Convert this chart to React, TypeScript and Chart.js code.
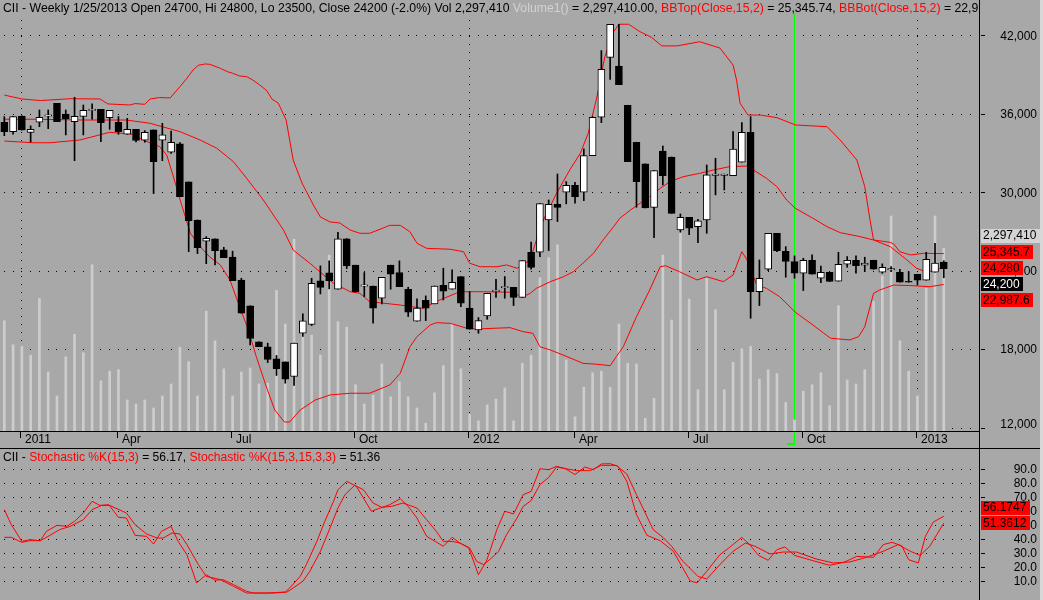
import React, { useEffect, useRef } from 'react';
import { Chart, registerables } from 'chart.js';
Chart.register(...registerables);

// ---------------- DATA (weekly bars, index 0 = first bar, 107 = 1/25/2013) ----------------
const openP = [
  35400, 34680, 35880, 34630, 35400, 35860, 36850, 36030, 35450, 35850,
  36300, 36390, 35750, 35400, 34480, 34860, 34020, 34810, 34020, 33100,
  33740, 30830, 27920, 26290, 26470, 25630, 25090, 23330, 21350, 18590,
  18210, 17290, 17060, 15940, 19250, 19920, 23260, 23870, 22620, 26470,
  24460, 22860, 22870, 21930, 24460, 23900, 22620, 20170, 21780, 21500,
  22920, 22620, 23590, 21170, 19510, 20580, 22450, 22730, 22770, 22000,
  25450, 25450, 27920, 29120, 30040, 30580, 30040, 32850, 35780, 40370,
  39700, 36700, 33870, 32210, 28890, 33200, 32740, 27160, 28130, 27410,
  27920, 31330, 31330, 31320, 32340, 34630, 22440, 24150, 26900, 25530,
  24740, 23840, 24840, 23460, 23920, 23230, 24530, 24840, 24460, 24840,
  23920, 24100, 23920, 23230, 23770, 23310, 23920, 24700,
];
const highP = [
  35830, 35850, 35900, 35120, 36340, 36340, 36850, 36340, 37310, 36720,
  36800, 36390, 36310, 35830, 35700, 34860, 34760, 34810, 35320, 34730,
  33840, 30830, 27920, 26650, 26470, 25830, 25530, 23460, 21350, 18590,
  18490, 17550, 17060, 18490, 20730, 23460, 24410, 24790, 26980, 26500,
  24460, 23900, 22870, 23540, 24460, 24790, 22770, 21880, 22110, 22870,
  24230, 24100, 23590, 22440, 20450, 22310, 23380, 23590, 22770, 24810,
  26220, 29170, 29450, 31440, 30860, 30800, 33360, 35830, 40880, 42890,
  42890, 36700, 33870, 32210, 31700, 33580, 32740, 28380, 28130, 27970,
  32130, 32640, 31430, 34680, 35370, 35830, 24860, 26900, 26900, 25880,
  25170, 24990, 25250, 24400, 23920, 25450, 25120, 25170, 25070, 24840,
  24560, 24350, 24150, 23970, 23770, 25450, 26140, 24800,
];
const lowP = [
  34370, 34480, 34800, 33890, 35060, 34910, 35450, 34430, 32460, 34430,
  35630, 33920, 34860, 34480, 34480, 33890, 33870, 29940, 32460, 33020,
  29710, 25500, 25350, 24580, 24480, 25040, 23280, 20790, 18360, 18230,
  17010, 16020, 15430, 15250, 19000, 19840, 22260, 22650, 22620, 24200,
  22400, 22060, 20020, 21500, 22620, 22820, 20530, 20170, 20220, 21500,
  21800, 22620, 21290, 19560, 19250, 20320, 22000, 21930, 21370, 22000,
  24150, 25120, 25580, 27800, 29150, 29200, 29400, 32850, 35370, 38680,
  38280, 32390, 28890, 28840, 26570, 30600, 28430, 26980, 26800, 26190,
  26900, 29840, 30220, 31320, 32340, 20400, 21370, 24050, 25500, 23540,
  23460, 22520, 23770, 23130, 23210, 23230, 24300, 23840, 23970, 24150,
  23840, 23970, 23160, 23160, 22950, 23310, 23920, 23500,
];
const closeP = [
  34680, 35830, 34810, 34860, 35780, 35960, 35450, 35680, 35850, 36310,
  36400, 35370, 36310, 34680, 34860, 34000, 34630, 32390, 34430, 33870,
  29710, 27870, 25810, 26520, 25580, 25040, 23280, 20790, 18850, 18230,
  17240, 16550, 15740, 18490, 20200, 23080, 22750, 23280, 26470, 24410,
  22440, 22960, 21170, 23540, 23770, 22820, 20860, 21170, 21170, 22870,
  22470, 23150, 21550, 19560, 20220, 22310, 22550, 22830, 22000, 24810,
  24280, 29170, 29120, 28890, 30580, 29710, 32850, 35780, 39450, 42890,
  38280, 32390, 30860, 28840, 31700, 31310, 28430, 28130, 27290, 27850,
  31370, 31430, 31430, 33350, 34630, 22440, 23460, 26900, 25580, 24740,
  23840, 24840, 23770, 23920, 23210, 24530, 24840, 24430, 24630, 24150,
  24300, 24200, 23160, 23160, 23310, 24910, 24630, 24200,
];
// volume in millions of shares
const volumeM = [
  1.39, 1.09, 1.07, 0.96, 1.67, 0.75, 0.45, 0.94, 1.22, 0.99,
  2.09, 0.64, 0.76, 0.78, 0.40, 0.35, 0.40, 0.30, 0.45, 0.60,
  1.06, 0.88, 0.45, 1.51, 1.14, 0.79, 0.45, 0.75, 0.80, 0.60,
  0.61, 1.77, 1.35, 2.41, 1.31, 1.21, 0.96, 2.21, 1.38, 1.31,
  0.59, 0.35, 0.46, 0.85, 0.44, 0.63, 0.44, 0.30, 0.11, 0.49,
  0.83, 1.35, 0.79, 0.22, 0.14, 0.34, 0.41, 0.55, 0.14, 0.86,
  0.96, 1.93, 2.18, 2.34, 0.90, 0.19, 0.56, 0.74, 0.76, 0.56,
  1.35, 0.86, 0.85, 0.17, 0.42, 2.21, 1.40, 2.50, 1.66, 0.53,
  1.92, 1.53, 0.53, 0.87, 1.04, 1.07, 0.66, 0.78, 0.73, 0.37,
  0.15, 0.51, 0.59, 0.74, 0.33, 1.58, 0.65, 0.60, 0.78, 1.63,
  1.95, 2.70, 1.14, 0.76, 0.45, 1.80, 2.70, 2.29741,
];
const lastChangePct = -2.0;
// Bollinger bands: [bar index, value]
const bbTop: [number, number][] = [
  [0, 37480], [1, 37330], [2, 37180], [4.1, 37060], [7.5, 37200], [10.9, 37180], [11.8, 36800],
  [14.3, 36720], [14.9, 36830], [16, 36770], [16.6, 37180], [17.7, 37290], [18.9, 37260],
  [20, 38120], [20.8, 38760], [21.5, 39400], [22.1, 39760], [22.9, 39860], [23.4, 39830],
  [24.6, 39530], [25.4, 39270], [26, 39150], [26.8, 38940], [27.6, 38890], [28.3, 38630],
  [29.1, 38250], [29.9, 37810], [30.5, 37160], [31.2, 36870], [32.1, 35570], [32.5, 34040],
  [32.9, 32510], [33.9, 30750], [35.2, 29070], [36, 28150], [37.1, 27770], [38.2, 27690],
  [39.4, 27150], [40.5, 26900], [41.6, 26900], [42.8, 27210], [43.9, 27510], [45.1, 27510],
  [46.2, 27020], [47, 26140], [48.1, 25750], [50.8, 25680], [52.3, 25490], [53, 24610],
  [54.2, 24340], [56.1, 24340], [57.2, 24480], [58.4, 24220], [59.9, 24860], [60.6, 26390],
  [61.4, 27920], [62.9, 29960], [64.4, 31750], [65.6, 33020], [66.5, 34550], [67.5, 37360],
  [68.4, 40420], [69.4, 42330], [70, 42900], [71.1, 42900], [72.4, 42330], [73.7, 41900],
  [74.9, 41240], [76.6, 41240], [79.2, 41560], [81.5, 41080], [83, 39780], [83.4, 38630],
  [83.8, 36850], [84.7, 35950], [86.1, 35950], [88, 35750], [90.1, 35190], [93.7, 35060],
  [95.2, 34040], [97.1, 32510], [98, 30470], [98.6, 27920], [99, 26390], [100.9, 26210],
  [101.3, 26080], [102, 25490], [103.2, 25240], [104.7, 25370], [107, 25345.74],
];
const bbMid: [number, number][] = [
  [0, 35630], [3.3, 35630], [9, 35570], [13.9, 35570], [16.6, 35320], [20, 34680],
  [22.3, 34040], [24.2, 33410], [26.1, 32380], [27.6, 31110], [29.5, 29450], [31.8, 27150],
  [32.9, 25620], [34.8, 24610], [37.5, 23070], [39.4, 22430], [40.5, 22310], [41.6, 21670],
  [45.1, 21410], [47.7, 21160], [49.6, 21800], [51.9, 22430], [54.6, 22430], [57.6, 22390],
  [59.1, 22050], [59.9, 22310], [60.6, 22690], [62.2, 23200], [63.7, 23580], [64.8, 23960],
  [65.9, 24610], [67.1, 25370], [68.2, 26390], [69.4, 27410], [70.1, 28050], [71.3, 28680],
  [72.4, 29200], [73.5, 29700], [74.7, 30340], [75.8, 30850], [77.3, 31230], [79.2, 31490],
  [80.8, 31750], [82.6, 32000], [84.6, 32050], [85.3, 31750], [86.8, 31110], [88, 30470],
  [89.1, 29450], [90.1, 28810], [92.1, 28050], [93.7, 27410], [95.2, 26950], [97.5, 26640],
  [99, 26390], [100.9, 25880], [102.8, 24860], [103.9, 24220], [105.1, 23920], [107, 24280],
];
const bbBot: [number, number][] = [
  [0, 33960], [3.3, 33830], [5.2, 33830], [8.6, 34040], [12, 34630], [14.7, 34480],
  [15.8, 34040], [17.7, 33530], [18.5, 32890], [19.2, 31360], [20.2, 29070], [21.2, 26900],
  [22.3, 25880], [23.4, 25090], [24.6, 24480], [25.7, 23330], [26.8, 21280], [27.8, 19500],
  [28.7, 17460], [29.9, 15040], [30.8, 13380], [31.9, 12460], [32.5, 12460], [33.7, 13380],
  [35.4, 14140], [37.1, 14530], [39.4, 14660], [41.6, 14660], [43.9, 15290], [45.1, 16190],
  [46.2, 18220], [47, 18990], [48.5, 19880], [49.2, 20060], [50.8, 20010], [52.7, 19630],
  [53.8, 19580], [57.6, 19680], [59.1, 19370], [60.2, 19250], [61, 18220], [62.2, 17970],
  [64.1, 17460], [65.9, 16950], [67.5, 16880], [69, 16770], [69.7, 17460], [70.5, 18220],
  [72, 20520], [73.5, 22560], [74.7, 24340], [75.3, 24420], [76.9, 23960], [78.9, 23330],
  [80, 23580], [81.9, 23200], [83, 23710], [84, 25490], [84.6, 24860], [85.7, 22940],
  [86.8, 22690], [88.3, 22050], [90.1, 20860], [92.1, 19880], [94.1, 18870], [96.3, 18740],
  [97.3, 18990], [98, 19750], [99, 22310], [99.7, 22560], [101.3, 22940], [103.5, 22890],
  [105.4, 22810], [107, 22987.63],
];
// Stochastic lines: [bar index, value]
const stochK: [number, number][] = [
  [0, 61], [0.8, 50.2], [2, 38.3], [2.9, 39.5], [4.1, 38.8], [4.8, 45.5], [6, 49.8], [7.1, 49],
  [8, 52.6], [9, 58.6], [10, 66.9], [10.9, 64], [11.9, 64.5], [13, 55.5], [13.9, 55], [14.9, 42.6],
  [16.2, 41.9], [17, 36.4], [17.9, 45.5], [19, 49], [19.8, 38.3], [20.8, 28.8], [21.9, 8.6],
  [23, 14.5], [24, 10.5], [24.9, 11], [26.1, 7.4], [27.6, 2.6], [28.4, 1.4], [29.9, 1.4],
  [32, 2.1], [32.5, 5], [33.7, 13.3], [34.4, 21.7], [35.6, 38.3], [36.5, 52.6], [37.5, 66.9],
  [38, 75.2], [39, 81.2], [40.1, 77.6], [40.9, 69.3], [41.8, 59.8], [42.8, 62.1], [43.9, 64.5],
  [45.1, 68.8], [46, 63.3], [47, 55], [48.1, 41.9], [50, 34.8], [51, 41.2], [51.9, 37.1],
  [52.9, 33.6], [54, 14.5], [54.9, 24], [55.3, 31.2], [56.1, 46.7], [57, 59.8], [58, 57.9],
  [59.1, 71.7], [60, 74], [61, 90.2], [62, 89.5], [62.9, 91.9], [63.9, 90.2], [65, 86],
  [66.1, 91.4], [67.1, 89.5], [68, 93.6], [69, 93.8], [69.9, 91.9], [70.9, 81.2], [72, 57.4],
  [73.2, 42.6], [74.7, 38.8], [76.2, 31.2], [78.1, 10.2], [78.9, 8.6], [80, 16.9], [81.5, 28.8],
  [82.6, 34], [84, 41.2], [84.9, 36], [85.9, 28.3], [87, 24.8], [88, 32.4], [88.9, 34.3],
  [90, 28.3], [92.1, 24.5], [94, 21.2], [95.6, 23.3], [97.1, 27.6], [99, 26.9], [100.1, 36],
  [101.1, 37.6], [102.2, 35.2], [103, 25.2], [104.1, 22.9], [104.9, 41.9], [105.8, 52.1],
  [107, 56.1747],
];
const stochD: [number, number][] = [
  [0, 41.2], [0.8, 41.2], [2, 37.6], [2.9, 38.8], [4.1, 38.8], [5.2, 42.6], [6.3, 46.7],
  [7.5, 49], [9, 53.8], [10, 61], [11.1, 64], [12, 64], [13.9, 58.6], [14.9, 50.2], [16.2, 43.6],
  [17.4, 40.7], [18.1, 40.7], [19.1, 44.3], [20, 43.6], [20.8, 36], [22.1, 21.7], [23, 13.3],
  [24.6, 11], [26.1, 6.2], [27.6, 1.4], [30.6, 1.4], [32.2, 2.1], [32.9, 5], [34, 9.8],
  [34.8, 16.9], [36, 31.2], [37.1, 47.9], [38, 62.1], [38.8, 71.7], [39.9, 78.3], [40.9, 75.2],
  [42, 65.7], [43, 62.6], [44.1, 63.3], [45.4, 65.7], [47, 62.1], [48.1, 53.8], [49.2, 45.5],
  [50, 38.3], [51, 38.3], [51.9, 37.1], [53, 33.6], [53.8, 24], [54.6, 21.7], [55.5, 26.4],
  [56.3, 31.2], [57.2, 43.1], [58.4, 55], [59.1, 63.3], [60, 67.4], [61, 78.8], [62, 84],
  [62.9, 91.4], [64, 90.2], [65.2, 88.8], [66.7, 88.8], [68, 92.6], [69.7, 92.6], [70.9, 86.4],
  [72, 71.7], [73, 58.6], [73.9, 46.7], [75.1, 40.7], [76, 34.8], [77.3, 24], [79, 13.3],
  [80, 11.4], [81.5, 21.7], [83, 31.2], [84.4, 37.1], [85.5, 34.8], [87.2, 29.3], [88.7, 30.7],
  [90.2, 30.7], [92.5, 25.7], [94.4, 22.9], [96.3, 23.6], [98.2, 26.9], [100.1, 31.2],
  [101.8, 36], [103.2, 31.2], [104.3, 28.3], [105.4, 34.8], [107, 51.3612],
];
const monthTickIdx = [2, 13, 26, 40, 53, 65, 78, 91, 104];
const monthTickLabels = ['2011', 'Apr', 'Jul', 'Oct', '2012', 'Apr', 'Jul', 'Oct', '2013'];
const yearGridIdx = [2, 53, 104];
const priceTicks = [42000, 36000, 30000, 24000, 18000, 12000];
const stochTicks = [90, 80, 70, 60, 50, 40, 30, 20, 10];
const cursorIdx = 90;

// ---------------- LAYOUT / STYLE ----------------
const W = 1043;
const MAIN_H = 448;
const LOW_H = 152;
const AXIS_X = 979;
const BG = '#a8a8a8';
const FONT = '12px "Liberation Sans", Arial, sans-serif';
const HEAD_FONT = '12.25px "Liberation Sans", Arial, sans-serif';
const LOW_HEAD_FONT = '12.1px "Liberation Sans", Arial, sans-serif';
const X_MIN = -0.49;
const X_MAX = 111.01;

const fmt = (v: number, d = 0) =>
  v.toLocaleString('en-US', { minimumFractionDigits: d, maximumFractionDigits: d });
const last = <T,>(a: T[]) => a[a.length - 1];

function drawSegs(ctx: CanvasRenderingContext2D, segs: [string, string][], x: number, y: number) {
  for (const [t, c] of segs) {
    ctx.fillStyle = c;
    ctx.fillText(t, x, y);
    x += ctx.measureText(t).width;
  }
}

function drawBox(ctx: CanvasRenderingContext2D, text: string, cy: number, bg: string, fg: string) {
  const w = ctx.measureText(text).width;
  ctx.fillStyle = bg;
  ctx.fillRect(981, Math.round(cy - 7), Math.ceil(w + 5), 14);
  ctx.fillStyle = fg;
  ctx.textAlign = 'left';
  ctx.fillText(text, 983, cy + 0.5);
}

const mainDeco = {
  id: 'mainDeco',
  beforeDraw(chart: any) {
    const ctx = chart.ctx;
    ctx.save();
    ctx.fillStyle = BG;
    ctx.fillRect(0, 0, chart.width, chart.height);
    ctx.restore();
  },
  beforeDatasetsDraw(chart: any) {
    const { ctx, chartArea } = chart;
    const x = chart.scales.x, y = chart.scales.y;
    ctx.save();
    ctx.fillStyle = '#000';
    for (const t of priceTicks) {
      const py = Math.floor(y.getPixelForValue(t));
      for (let k = 0; k <= 110; k++) {
        const px = Math.floor(x.getPixelForValue(k));
        if (px < AXIS_X - 1) ctx.fillRect(px, py, 1, 1);
      }
    }
    for (const gi of yearGridIdx) {
      const px = Math.floor(x.getPixelForValue(gi));
      for (let py = 20; py < chartArea.bottom; py += 8) ctx.fillRect(px, py, 1, 1);
    }
    const cx = Math.floor(x.getPixelForValue(cursorIdx));
    ctx.fillStyle = '#00ff00';
    ctx.fillRect(cx, 13, 1, chartArea.bottom - 13);
    ctx.restore();
  },
  afterDraw(chart: any) {
    const { ctx, chartArea } = chart;
    const x = chart.scales.x, y = chart.scales.y;
    ctx.save();
    ctx.font = FONT;
    ctx.textBaseline = 'middle';
    // x-axis strip
    ctx.fillStyle = '#000';
    ctx.fillRect(0, chartArea.bottom - 1, AXIS_X + 1, 1);
    ctx.fillRect(AXIS_X, 0, 1, MAIN_H);
    ctx.textAlign = 'left';
    monthTickIdx.forEach((idx, j) => {
      const px = Math.floor(x.getPixelForValue(idx)) - 1;
      ctx.fillStyle = '#000';
      ctx.fillRect(px, chartArea.bottom, 1, 6);
      ctx.fillText(monthTickLabels[j], px + 5, 440);
    });
    const cx = Math.floor(x.getPixelForValue(cursorIdx));
    ctx.fillStyle = '#00ff00';
    ctx.fillRect(cx, chartArea.bottom, 1, 13);
    ctx.fillRect(cx - 7, chartArea.bottom + 11, 8, 2);
    // right axis labels
    ctx.fillStyle = '#000';
    ctx.textAlign = 'right';
    for (const t of priceTicks) {
      const py = y.getPixelForValue(t);
      ctx.fillRect(981, Math.floor(py), 4, 1);
      ctx.fillText(fmt(t), 1037, Math.min(py, 424) + 0.5);
    }
    // value boxes
    drawBox(ctx, fmt(last(volumeM) * 1e6), 235.5, '#d4d4d4', '#000');
    drawBox(ctx, fmt(last(bbTop)[1], 1), 251.7, '#ff0000', '#000');
    drawBox(ctx, fmt(last(bbMid)[1]), 268, '#ff0000', '#000');
    drawBox(ctx, fmt(last(closeP)), 283.7, '#000000', '#ffffff');
    drawBox(ctx, fmt(last(bbBot)[1], 1), 300, '#ff0000', '#000');
    // header
    ctx.save();
    ctx.beginPath();
    ctx.rect(0, 0, AXIS_X - 1, 20);
    ctx.clip();
    ctx.font = HEAD_FONT;
    ctx.textAlign = 'left';
    const n = closeP.length - 1;
    drawSegs(ctx, [
      [`CII - Weekly 1/25/2013 Open ${openP[n]}, Hi ${highP[n]}, Lo ${lowP[n]}, Close ${closeP[n]} (${lastChangePct.toFixed(1)}%) Vol ${fmt(volumeM[n] * 1e6)} `, '#000'],
      ['Volume1()', '#d2d2d2'],
      [` = ${fmt(volumeM[n] * 1e6, 2)}, `, '#000'],
      ['BBTop(Close,15,2)', '#ff0000'],
      [` = ${fmt(last(bbTop)[1], 2)}, `, '#000'],
      ['BBBot(Close,15,2)', '#ff0000'],
      [` = ${fmt(last(bbBot)[1], 2)}`, '#000'],
    ], 3, 8.5);
    ctx.restore();
    ctx.fillStyle = '#d8d8d8';
    ctx.fillRect(1040, 0, 3, MAIN_H);
    ctx.restore();
  },
};

const lowDeco = {
  id: 'lowDeco',
  beforeDraw(chart: any) {
    const ctx = chart.ctx;
    ctx.save();
    ctx.fillStyle = BG;
    ctx.fillRect(0, 0, chart.width, chart.height);
    ctx.restore();
  },
  beforeDatasetsDraw(chart: any) {
    const ctx = chart.ctx;
    const x = chart.scales.x, y = chart.scales.y;
    ctx.save();
    ctx.fillStyle = '#000';
    for (const t of stochTicks) {
      const py = Math.floor(y.getPixelForValue(t));
      for (let k = 0; k <= 110; k++) {
        const px = Math.floor(x.getPixelForValue(k));
        if (px < AXIS_X - 1) ctx.fillRect(px, py, 1, 1);
      }
    }
    ctx.restore();
  },
  afterDraw(chart: any) {
    const ctx = chart.ctx;
    const y = chart.scales.y;
    ctx.save();
    ctx.font = FONT;
    ctx.textBaseline = 'middle';
    ctx.fillStyle = '#000';
    ctx.fillRect(0, 0, W, 1);
    ctx.fillRect(AXIS_X, 0, 1, LOW_H);
    ctx.textAlign = 'right';
    for (const t of stochTicks) {
      const py = y.getPixelForValue(t);
      ctx.fillRect(981, Math.floor(py), 4, 1);
      ctx.fillText(t.toFixed(1), 1037, py + 0.5);
    }
    drawBox(ctx, last(stochK)[1].toFixed(4), 507.5 - MAIN_H, '#ff0000', '#000');
    drawBox(ctx, last(stochD)[1].toFixed(4), 523.3 - MAIN_H, '#ff0000', '#000');
    ctx.font = LOW_HEAD_FONT;
    ctx.textAlign = 'left';
    drawSegs(ctx, [
      ['CII - ', '#000'],
      ['Stochastic %K(15,3)', '#ff0000'],
      [` = ${last(stochK)[1].toFixed(2)}, `, '#000'],
      ['Stochastic %K(15,3,15,3,3)', '#ff0000'],
      [` = ${last(stochD)[1].toFixed(2)}`, '#000'],
    ], 3, 9.5);
    ctx.fillStyle = '#d8d8d8';
    ctx.fillRect(1040, 0, 3, LOW_H);
    ctx.restore();
  },
};

const xScaleOpts = { type: 'linear', min: X_MIN, max: X_MAX, offset: false, display: false, grid: { offset: false } };

export default function App() {
  const mainRef = useRef<HTMLCanvasElement>(null);
  const lowRef = useRef<HTMLCanvasElement>(null);

  useEffect(() => {
    const idx = closeP.map((_, i) => i);
    const c1 = new Chart(mainRef.current as HTMLCanvasElement, {
      type: 'bar',
      data: {
        datasets: [
          {
            type: 'bar',
            data: idx.map((i) => ({ x: i, y: volumeM[i] })),
            yAxisID: 'yv',
            backgroundColor: '#cdcdcd',
            barThickness: 2,
            grouped: false,
            order: 10,
          } as any,
          ...[bbTop, bbMid, bbBot].map((band) => ({
            type: 'line',
            data: band.map(([x, v]) => ({ x, y: v })),
            yAxisID: 'y',
            borderColor: '#ff0000',
            borderWidth: 1,
            pointRadius: 0,
            tension: 0,
            fill: false,
            order: 5,
          })) as any,
          {
            type: 'bar',
            data: idx.map((i) => ({ x: i, y: [lowP[i], highP[i]] })),
            yAxisID: 'y',
            backgroundColor: '#000000',
            barThickness: 1,
            grouped: false,
            borderSkipped: false,
            order: 2,
          } as any,
          {
            type: 'bar',
            data: idx.map((i) => ({ x: i, y: [openP[i], closeP[i]] })),
            yAxisID: 'y',
            backgroundColor: (c: any) => (closeP[c.dataIndex] >= openP[c.dataIndex] ? '#ffffff' : '#000000'),
            borderColor: '#000000',
            borderWidth: 1,
            borderSkipped: false,
            barThickness: 7,
            grouped: false,
            order: 1,
          } as any,
        ],
      },
      options: {
        responsive: false,
        animation: false,
        devicePixelRatio: 1,
        events: [],
        layout: { padding: { left: 0, right: W - AXIS_X, top: 0, bottom: 16 } },
        plugins: { legend: { display: false }, tooltip: { enabled: false } },
        scales: {
          x: xScaleOpts as any,
          y: { type: 'linear', min: 11694, max: 44755, display: false, beginAtZero: false },
          yv: { type: 'linear', position: 'right', min: 0, max: 5.4, display: false, beginAtZero: false },
        },
      },
      plugins: [mainDeco],
    } as any);

    const c2 = new Chart(lowRef.current as HTMLCanvasElement, {
      type: 'line',
      data: {
        datasets: [stochK, stochD].map((s) => ({
          data: s.map(([x, v]) => ({ x, y: v })),
          borderColor: '#ff0000',
          borderWidth: 1,
          pointRadius: 0,
          tension: 0,
          fill: false,
        })),
      },
      options: {
        responsive: false,
        animation: false,
        devicePixelRatio: 1,
        events: [],
        layout: { padding: { left: 0, right: W - AXIS_X, top: 0, bottom: 0 } },
        plugins: { legend: { display: false }, tooltip: { enabled: false } },
        scales: {
          x: xScaleOpts as any,
          y: { type: 'linear', min: -3.5714, max: 105, display: false },
        },
      },
      plugins: [lowDeco],
    } as any);

    return () => {
      c1.destroy();
      c2.destroy();
    };
  }, []);

  return (
    <div style={{ position: 'fixed', left: 0, top: 0, width: W, height: MAIN_H + LOW_H, background: BG, overflow: 'hidden' }}>
      <canvas ref={mainRef} width={W} height={MAIN_H} style={{ position: 'absolute', left: 0, top: 0, width: W, height: MAIN_H }} />
      <canvas ref={lowRef} width={W} height={LOW_H} style={{ position: 'absolute', left: 0, top: MAIN_H, width: W, height: LOW_H }} />
    </div>
  );
}
